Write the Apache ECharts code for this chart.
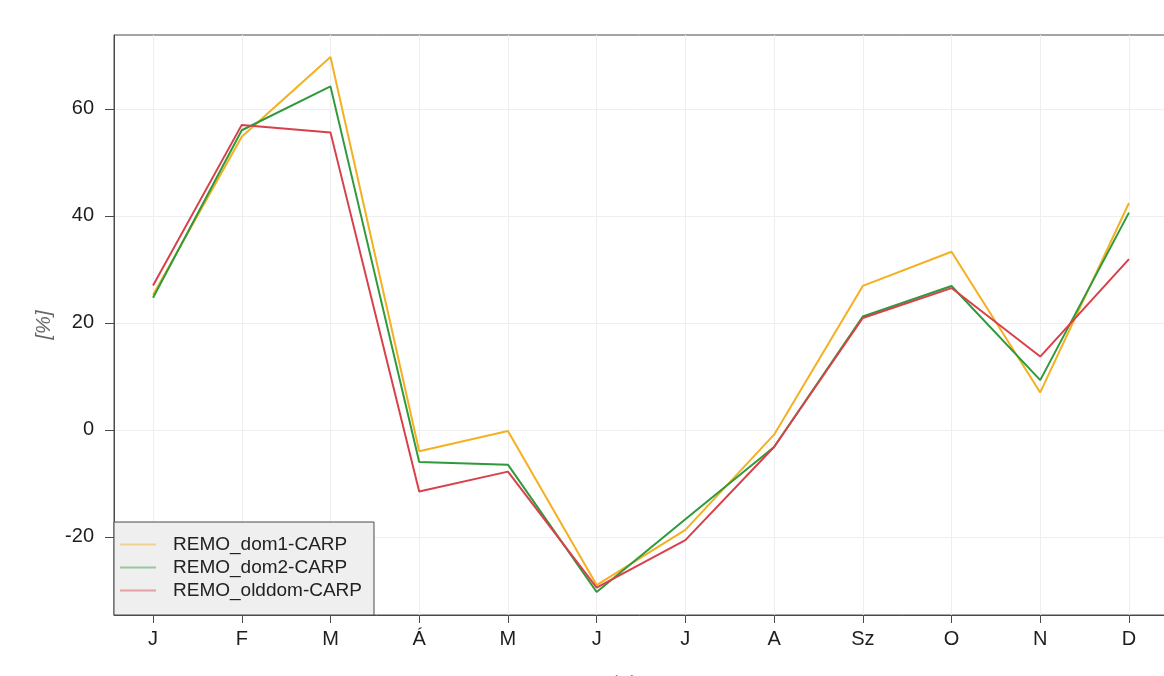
<!DOCTYPE html>
<html>
<head>
<meta charset="utf-8">
<script src="https://cdn.jsdelivr.net/npm/echarts@6/dist/echarts.min.js"></script>
<style>
  html, body { margin: 0; padding: 0; background: #fff; }
  #chart { width: 1164px; height: 676px; }
</style>
</head>
<body>
<div id="chart"></div>
<script>
// Monthly change [%] per model domain
const months = ['J', 'F', 'M', 'Á', 'M', 'J', 'J', 'A', 'Sz', 'O', 'N', 'D'];
const seriesNames = ['REMO_dom1-CARP', 'REMO_dom2-CARP', 'REMO_olddom-CARP'];
const dom1 = [25.2, 54.8, 69.7, -4.0, -0.2, -29.0, -18.7, -0.9, 26.9, 33.3, 7.0, 42.4];
const dom2 = [24.7, 56.0, 64.2, -6.0, -6.5, -30.3, -16.7, -3.2, 21.2, 26.9, 9.3, 40.6];
const olddom = [27.0, 57.0, 55.6, -11.5, -7.8, -29.5, -20.6, -3.2, 20.9, 26.5, 13.7, 31.9];
const yTicks = [-20, 0, 20, 40, 60];
const colors = ['#f4b020', '#2e9a3c', '#d8404a'];

const monthIdx = months.map((_, i) => i);
const toPoints = vals => vals.map((v, i) => [i, v]);

const font = '"Liberation Sans", "DejaVu Sans", sans-serif';
const chart = echarts.init(document.getElementById('chart'));

chart.setOption({
  animation: false,
  backgroundColor: '#ffffff',
  grid: {
    left: 114, top: 35, width: 1054, bottom: 61,
    outerBoundsMode: 'none',
    containLabel: false,
    show: true, borderColor: '#4a4a4a', borderWidth: 1
  },
  legend: {
    data: seriesNames,
    orient: 'vertical',
    left: 114, bottom: 61,
    backgroundColor: '#efefef',
    borderColor: '#4a4a4a', borderWidth: 1,
    padding: [13, 12, 15, 6],
    itemGap: 4,
    itemWidth: 36, itemHeight: 2,
    icon: 'rect',
    textStyle: { fontFamily: font, fontSize: 19, color: '#222', padding: [0, 0, 0, 12] }
  },
  xAxis: {
    type: 'value',
    min: -0.44, max: 11.44,
    name: 'hónap',
    nameLocation: 'middle',
    nameGap: 58,
    nameTextStyle: { fontFamily: font, fontSize: 19, color: '#888' },
    axisLine: { show: true, onZero: false, lineStyle: { color: '#4a4a4a', width: 1 } },
    axisTick: { show: true, length: 8, customValues: monthIdx, lineStyle: { color: '#4a4a4a' } },
    axisLabel: {
      customValues: monthIdx,
      formatter: v => months[Math.round(v)],
      margin: 14,
      fontFamily: font, fontSize: 20, color: '#1e1e1e'
    },
    splitLine: { show: true, lineStyle: { color: '#eeeeee', width: 1 } }
  },
  yAxis: {
    type: 'value',
    min: -34.6, max: 73.8,
    name: '[%]',
    nameLocation: 'middle',
    nameGap: 58,
    nameRotate: 90,
    nameTextStyle: { fontFamily: font, fontSize: 20, fontStyle: 'italic', color: '#666' },
    axisLine: { show: true, onZero: false, lineStyle: { color: '#4a4a4a', width: 1 } },
    axisTick: { show: true, length: 9, customValues: yTicks, lineStyle: { color: '#4a4a4a' } },
    axisLabel: {
      customValues: yTicks,
      margin: 20,
      fontFamily: font, fontSize: 20, color: '#1e1e1e'
    },
    splitLine: { show: true, lineStyle: { color: '#eeeeee', width: 1 } }
  },
  series: [dom1, dom2, olddom].map((vals, k) => ({
    name: seriesNames[k],
    type: 'line',
    data: toPoints(vals),
    showSymbol: false,
    symbol: 'none',
    lineStyle: { color: colors[k], width: 2 },
    itemStyle: { color: colors[k], opacity: 0.45 },
    z: 3 + k
  }))
});
</script>
</body>
</html>
